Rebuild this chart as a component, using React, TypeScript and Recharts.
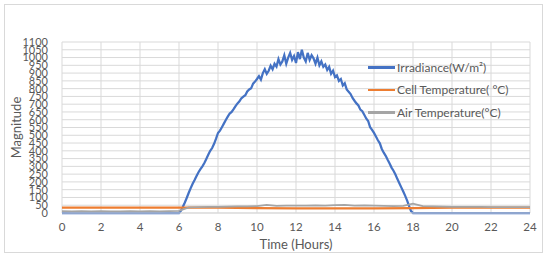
import { LineChart, Line, XAxis, YAxis, CartesianGrid } from "recharts";

// Irradiance (W/m²), sampled every 0.1 h during daylight
const irrHours = [
  0,
  6.0, 6.1, 6.2, 6.3, 6.4, 6.5, 6.6, 6.7, 6.8, 6.9,
  7.0, 7.1, 7.2, 7.3, 7.4, 7.5, 7.6, 7.7, 7.8, 7.9,
  8.0, 8.1, 8.2, 8.3, 8.4, 8.5, 8.6, 8.7, 8.8, 8.9,
  9.0, 9.1, 9.2, 9.3, 9.4, 9.5, 9.6, 9.7, 9.8, 9.9,
  10.0, 10.1, 10.2, 10.3, 10.4, 10.5, 10.6, 10.7, 10.8, 10.9,
  11.0, 11.1, 11.2, 11.3, 11.4, 11.5, 11.6, 11.7, 11.8, 11.9,
  12.0, 12.1, 12.2, 12.3, 12.4, 12.5, 12.6, 12.7, 12.8, 12.9,
  13.0, 13.1, 13.2, 13.3, 13.4, 13.5, 13.6, 13.7, 13.8, 13.9,
  14.0, 14.1, 14.2, 14.3, 14.4, 14.5, 14.6, 14.7, 14.8, 14.9,
  15.0, 15.1, 15.2, 15.3, 15.4, 15.5, 15.6, 15.7, 15.8, 15.9,
  16.0, 16.1, 16.2, 16.3, 16.4, 16.5, 16.6, 16.7, 16.8, 16.9,
  17.0, 17.1, 17.2, 17.3, 17.4, 17.5, 17.6, 17.7, 17.8, 17.9,
  18.0,
  24,
];
const irradiance = [
  0,
  0, 15, 40, 68, 98, 130, 160, 188, 212, 238,
  262, 282, 300, 322, 348, 375, 400, 418, 445, 478,
  515, 530, 552, 575, 598, 620, 640, 650, 668, 688,
  705, 718, 738, 748, 758, 782, 795, 802, 832, 845,
  862, 880, 858, 900, 925, 895, 915, 948, 925, 960,
  942, 990, 955, 975, 1015, 960, 1000, 1030, 985, 1010,
  965, 1035, 990, 1050, 1000, 975, 1030, 985, 1015, 995,
  960, 1000, 950, 975, 940, 955, 920, 940, 895, 915,
  875, 885, 850, 862, 820, 835, 795, 780, 765, 740,
  722, 705, 692, 665, 655, 632, 608, 592, 552, 535,
  515, 492, 468, 448, 412, 388, 368, 342, 318, 292,
  272, 248, 218, 192, 165, 138, 110, 80, 45, 12,
  0,
  0,
];

// Cell temperature (°C)
const cellHours = [0, 2, 4, 6, 8, 10, 12, 14, 16, 18, 20, 22, 24];
const cellTemp = [35, 35, 35, 35, 34, 32, 30, 30, 30, 31, 34, 35, 35];

// Air temperature (°C), every 0.5 h
const airHours = [
  0, 0.5, 1, 1.5, 2, 2.5, 3, 3.5, 4, 4.5, 5, 5.5,
  6, 6.5, 7, 7.5, 8, 8.5, 9, 9.5, 10, 10.5, 11, 11.5,
  12, 12.5, 13, 13.5, 14, 14.5, 15, 15.5, 16, 16.5, 17, 17.5,
  18, 18.5, 19, 19.5, 20, 20.5, 21, 21.5, 22, 22.5, 23, 23.5, 24,
];
const airTemp = [
  12, 11, 12, 11, 12, 11, 11, 12, 11, 12, 11, 12,
  14, 36, 38, 40, 39, 41, 42, 43, 44, 52, 46, 47,
  48, 47, 49, 48, 50, 52, 48, 49, 48, 46, 45, 46,
  60, 44, 42, 41, 40, 40, 39, 39, 38, 38, 38, 37, 37,
];

const xTicks = [0, 2, 4, 6, 8, 10, 12, 14, 16, 18, 20, 22, 24];
const yTicks = [0, 50, 100, 150, 200, 250, 300, 350, 400, 450, 500, 550, 600, 650, 700, 750, 800, 850, 900, 950, 1000, 1050, 1100];

const SERIES = [
  { name: "Irradiance(W/m²)", color: "#4472C4", width: 2.25 },
  { name: "Cell Temperature( °C)", color: "#ED7D31", width: 2.25 },
  { name: "Air Temperature(°C)", color: "#A5A5A5", width: 1.75 },
];

const irrData = irrHours.map((h, i) => ({ h, v: irradiance[i] }));
const cellData = cellHours.map((h, i) => ({ h, v: cellTemp[i] }));
const airData = airHours.map((h, i) => ({ h, v: airTemp[i] }));

const FONT = "Lato, 'Open Sans', sans-serif";
const TEXT = "#595959";

function LegendBox() {
  return (
    <div style={{ position: "absolute", left: 368, top: 56, fontFamily: FONT, fontSize: 12, color: TEXT }}>
      {SERIES.map((s) => (
        <div key={s.name} style={{ display: "flex", alignItems: "center", height: 22.5 }}>
          <div style={{ width: 27, height: 2.5, background: s.color, marginRight: 2 }} />
          <span>{s.name}</span>
        </div>
      ))}
    </div>
  );
}

export default function App() {
  return (
    <div style={{ position: "absolute", left: 0, top: 0, width: 550, height: 256, background: "#fff" }}>
      <div
        style={{
          position: "absolute",
          left: 4,
          top: 4,
          width: 537,
          height: 247,
          border: "1px solid #d9d9d9",
        }}
      />
      <div style={{ position: "absolute", left: 0, top: 0 }}>
        <LineChart width={550} height={256} margin={{ top: 42, right: 20, left: 0, bottom: 0 }}>
          <CartesianGrid stroke="#d9d9d9" strokeWidth={1} />
          <XAxis
            type="number"
            dataKey="h"
            domain={[0, 24]}
            ticks={xTicks}
            interval={0}
            axisLine={{ stroke: "#d9d9d9" }}
            tickLine={false}
            tickMargin={4}
            height={43}
            tick={{ fontSize: 11.5, fill: TEXT, fontFamily: FONT }}
            allowDuplicatedCategory={false}
            label={{ value: "Time (Hours)", position: "insideBottom", offset: 7, fontSize: 13, fill: TEXT, fontFamily: FONT }}
          />
          <YAxis
            type="number"
            domain={[0, 1100]}
            ticks={yTicks}
            interval={0}
            width={62}
            axisLine={false}
            tickLine={false}
            tickMargin={8}
            tick={{ fontSize: 11, fill: TEXT, fontFamily: FONT }}
            label={{ value: "Magnitude", angle: -90, position: "insideLeft", offset: 16, fontSize: 13, fill: TEXT, fontFamily: FONT, style: { textAnchor: "middle" } }}
          />
          <Line data={irrData} dataKey="v" name={SERIES[0].name} stroke={SERIES[0].color} strokeWidth={SERIES[0].width} dot={false} type="linear" isAnimationActive={false} />
          <Line data={cellData} dataKey="v" name={SERIES[1].name} stroke={SERIES[1].color} strokeWidth={SERIES[1].width} dot={false} type="linear" isAnimationActive={false} />
          <Line data={airData} dataKey="v" name={SERIES[2].name} stroke={SERIES[2].color} strokeWidth={SERIES[2].width} dot={false} type="linear" isAnimationActive={false} />
        </LineChart>
      </div>
      <LegendBox />
    </div>
  );
}
